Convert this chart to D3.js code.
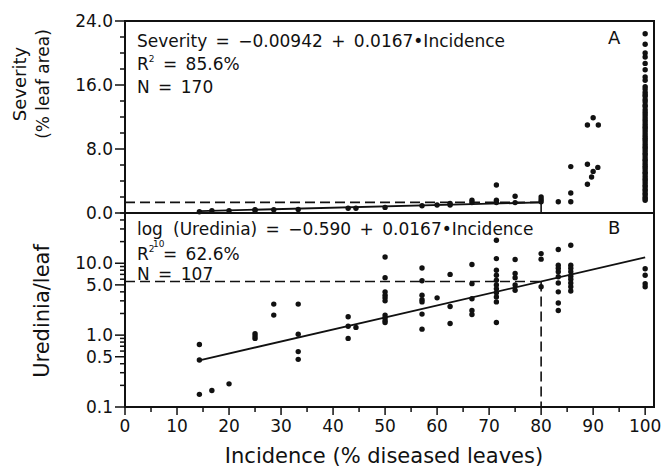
<!DOCTYPE html>
<html>
<head>
<meta charset="utf-8">
<script src="https://cdn.jsdelivr.net/npm/d3@7"></script>
<style>
  html, body { margin:0; padding:0; background:#fff; }
  svg text { font-family: "DejaVu Sans", sans-serif; fill:#111; }
</style>
</head>
<body>
<svg id="chart" width="662" height="470" viewBox="0 0 662 470"></svg>
<script>
// Panel A: severity vs incidence
const incidenceA = [14.3,16.7,20,25,25,28.6,33.3,42.9,44.4,50,57.1,60,62.5,62.5,66.7,66.7,71.4,71.4,71.4,75,75,80,80,80,83.3,85.7,85.7,85.7,88.9,88.9,88.9,89.7,90,90,90.9,91];
const severityA  = [0.15,0.3,0.3,0.35,0.4,0.4,0.45,0.6,0.6,0.7,0.9,1.0,1.0,1.2,1.3,1.6,1.3,1.6,3.5,1.3,2.1,1.4,1.7,2.0,1.4,1.4,2.5,5.8,3.6,6.1,11.0,4.5,5.2,11.9,5.7,11.0];
// the column of leaves at 100% incidence
const severity100 = [22.4,21.1,20.0,19.5,18.7,17.9,17.0,16.6,15.8,15.5,15.1,14.8,14.6,14.2,13.9,13.5,13.3,12.9,12.6,12.3,12.0,11.7,11.4,11.1,10.8,10.6,10.3,10.0,9.7,9.4,9.2,8.9,8.6,8.3,8.1,7.8,7.5,7.3,7.0,6.7,6.5,6.2,5.9,5.7,5.4,5.1,4.9,4.6,4.3,4.1,3.8,3.5,3.3,3.0,2.8,2.5,2.3,2.0,1.8,1.6];

// Panel B: uredinia per leaf (log scale)
const incidenceB = [14.3,14.3,14.3,16.7,20,25,25,25,28.6,28.6,33.3,33.3,33.3,33.3,42.9,42.9,42.9,44.4,
  50,50,50,50,50,50,50,50,50,50, 57.1,57.1,57.1,57.1,57.1,57.1,57.1, 60, 62.5,62.5,62.5,
  66.7,66.7,66.7,66.7,66.7, 71.4,71.4,71.4,71.4,71.4,71.4,71.4,71.4,71.4,71.4,71.4,
  75,75,75,75,75, 80,80,80, 83.3,83.3,83.3,83.3,83.3,83.3,83.3,83.3,83.3,
  85.7,85.7,85.7,85.7,85.7,85.7,85.7,85.7,85.7, 100,100,100,100];
const urediniaB = [0.74,0.45,0.15,0.17,0.21,0.9,0.97,1.05,2.7,1.9,2.7,1.03,0.59,0.46,1.8,1.33,0.9,1.28,
  12.2,6.3,4.0,3.6,3.3,3.0,1.9,1.75,1.6,1.5, 8.6,5.7,3.6,3.1,2.9,1.96,1.21, 3.3, 7.0,2.5,1.45,
  9.6,5.2,3.2,2.2,1.94, 20.9,11.6,8.0,6.8,5.8,5.0,4.4,3.9,3.4,2.9,1.5,
  11.3,7.2,6.3,5.0,4.2, 13.6,11.4,4.7, 15.5,9.4,8.5,7.6,6.5,5.3,4.0,2.8,2.2,
  17.8,9.4,8.5,7.6,6.6,6.0,5.3,4.7,4.1, 8.4,6.8,5.2,4.7];

// regression fits and reference incidence
const fitA = { a:-0.00942, b:0.0167, from:14.3, to:80 };
const fitB = { a:-0.590, b:0.0167, from:14.3, to:100 };
const refIncidence = 80;

const xTicks = [0,10,20,30,40,50,60,70,80,90,100];
const yTicksA = [0,8,16,24];
const yTicksB = [0.1,0.5,1,5,10];

const svg = d3.select('#chart');
const L = 125, R = 654, topA = 21, mid = 213, botB = 407;

const x = d3.scaleLinear().domain([0,101.7]).range([L,R]);
const yA = d3.scaleLinear().domain([0,24]).range([mid,topA]);
const yB = d3.scaleLog().domain([0.1,50]).range([botB,mid]);

const ink = '#111';

// dashed reference lines
const dash = '10,5';
const sevAt80 = fitA.a + fitA.b*refIncidence;
const uAt80 = Math.pow(10, fitB.a + fitB.b*refIncidence);
const g = svg.append('g').attr('stroke',ink).attr('fill','none');
g.append('line').attr('x1',x(0)).attr('x2',x(refIncidence)).attr('y1',yA(sevAt80)).attr('y2',yA(sevAt80))
  .attr('stroke-width',1.6).attr('stroke-dasharray',dash);
g.append('line').attr('x1',x(refIncidence)).attr('x2',x(refIncidence)).attr('y1',yA(sevAt80)).attr('y2',yA(0))
  .attr('stroke-width',1.6);
g.append('line').attr('x1',x(0)).attr('x2',x(refIncidence)).attr('y1',yB(uAt80)).attr('y2',yB(uAt80))
  .attr('stroke-width',1.6).attr('stroke-dasharray',dash);
g.append('line').attr('x1',x(refIncidence)).attr('x2',x(refIncidence)).attr('y1',yB(uAt80)).attr('y2',yB(0.1))
  .attr('stroke-width',1.6).attr('stroke-dasharray',dash);

// regression lines
g.append('line').attr('stroke-width',1.8)
  .attr('x1',x(fitA.from)).attr('y1',yA(fitA.a+fitA.b*fitA.from))
  .attr('x2',x(fitA.to)).attr('y2',yA(fitA.a+fitA.b*fitA.to));
g.append('line').attr('stroke-width',1.8)
  .attr('x1',x(fitB.from)).attr('y1',yB(Math.pow(10,fitB.a+fitB.b*fitB.from)))
  .attr('x2',x(fitB.to)).attr('y2',yB(Math.pow(10,fitB.a+fitB.b*fitB.to)));

// points
const ptsA = incidenceA.map((v,i)=>[v,severityA[i]]).concat(severity100.map(s=>[100,s]));
svg.append('g').selectAll('circle').data(ptsA).enter().append('circle')
  .attr('cx',d=>x(d[0])).attr('cy',d=>yA(d[1])).attr('r',2.7).attr('fill',ink);
const ptsB = incidenceB.map((v,i)=>[v,urediniaB[i]]);
svg.append('g').selectAll('circle').data(ptsB).enter().append('circle')
  .attr('cx',d=>x(d[0])).attr('cy',d=>yB(d[1])).attr('r',2.7).attr('fill',ink);

// frames
svg.append('rect').attr('x',L).attr('y',topA).attr('width',R-L).attr('height',botB-topA)
  .attr('fill','none').attr('stroke',ink).attr('stroke-width',2);
svg.append('line').attr('x1',L).attr('x2',R).attr('y1',mid).attr('y2',mid).attr('stroke',ink).attr('stroke-width',2);

// axes
const fmt1 = d3.format('.1f');
const axA = svg.append('g');
d3.range(0,24.01,2).forEach(v=>{
  const major = yTicksA.includes(v);
  axA.append('line').attr('x1',L-(major?10:5)).attr('x2',L).attr('y1',yA(v)).attr('y2',yA(v)).attr('stroke',ink).attr('stroke-width',1.5);
});
axA.selectAll('text').data(yTicksA).enter().append('text')
  .attr('x',L-12).attr('y',d=>yA(d)).attr('dy','0.36em').attr('text-anchor','end').attr('font-size',17).text(fmt1);

const axB = svg.append('g');
yB.ticks().forEach(v=>{
  const major = yTicksB.some(t=>Math.abs(t-v)<1e-9);
  axB.append('line').attr('x1',L-(major?10:5)).attr('x2',L).attr('y1',yB(v)).attr('y2',yB(v)).attr('stroke',ink).attr('stroke-width',1.5);
});
axB.selectAll('text').data(yTicksB).enter().append('text')
  .attr('x',L-12).attr('y',d=>yB(d)).attr('dy','0.36em').attr('text-anchor','end').attr('font-size',17).text(fmt1);

const axX = svg.append('g');
d3.range(0,100.1,5).forEach(v=>{
  const major = v%10===0;
  axX.append('line').attr('x1',x(v)).attr('x2',x(v)).attr('y1',botB).attr('y2',botB+(major?8:5)).attr('stroke',ink).attr('stroke-width',1.5);
});
axX.selectAll('text').data(xTicks).enter().append('text')
  .attr('x',d=>x(d)).attr('y',432).attr('text-anchor','middle').attr('font-size',17).text(d=>d);

// axis titles
svg.append('text').attr('transform','translate(26,84) rotate(-90)').attr('text-anchor','middle').attr('font-size',18).text('Severity');
svg.append('text').attr('transform','translate(49,84) rotate(-90)').attr('text-anchor','middle').attr('font-size',17).text('(% leaf area)');
svg.append('text').attr('transform','translate(49,311) rotate(-90)').attr('text-anchor','middle').attr('font-size',21).text('Uredinia/leaf');
svg.append('text').attr('x',384).attr('y',463).attr('text-anchor','middle').attr('font-size',21).text('Incidence (% diseased leaves)');

// annotations
const ann = svg.append('g').attr('font-size',17).attr('word-spacing',3);
ann.append('text').attr('x',137).attr('y',47).text('Severity = \u22120.00942 + 0.0167\u2022Incidence');
const r2a = ann.append('text').attr('x',137).attr('y',70);
r2a.append('tspan').text('R');
r2a.append('tspan').attr('font-size',9).attr('dy',-8).text('2');
r2a.append('tspan').attr('dy',8).text(' = 85.6%');
ann.append('text').attr('x',137).attr('y',93).text('N = 170');
ann.append('text').attr('x',608).attr('y',44).attr('font-size',18).attr('word-spacing',0).text('A');

// log line with its base-10 subscript dropped under "log", as in the original
const logLine = ann.append('text').attr('x',137).attr('y',235);
logLine.append('tspan').text('log');
logLine.append('tspan').attr('x',153).attr('dy',12).attr('font-size',9).attr('word-spacing',0).text('10');
logLine.append('tspan').attr('x',173).attr('dy',-12).text('(Uredinia) = \u22120.590 + 0.0167\u2022Incidence');
const r2b = ann.append('text').attr('x',137).attr('y',260);
r2b.append('tspan').text('R');
r2b.append('tspan').attr('font-size',9).attr('dy',-8).text('2');
r2b.append('tspan').attr('dy',8).text(' = 62.6%');
ann.append('text').attr('x',137).attr('y',280).text('N = 107');
ann.append('text').attr('x',608).attr('y',234).attr('font-size',18).attr('word-spacing',0).text('B');
</script>
</body>
</html>
